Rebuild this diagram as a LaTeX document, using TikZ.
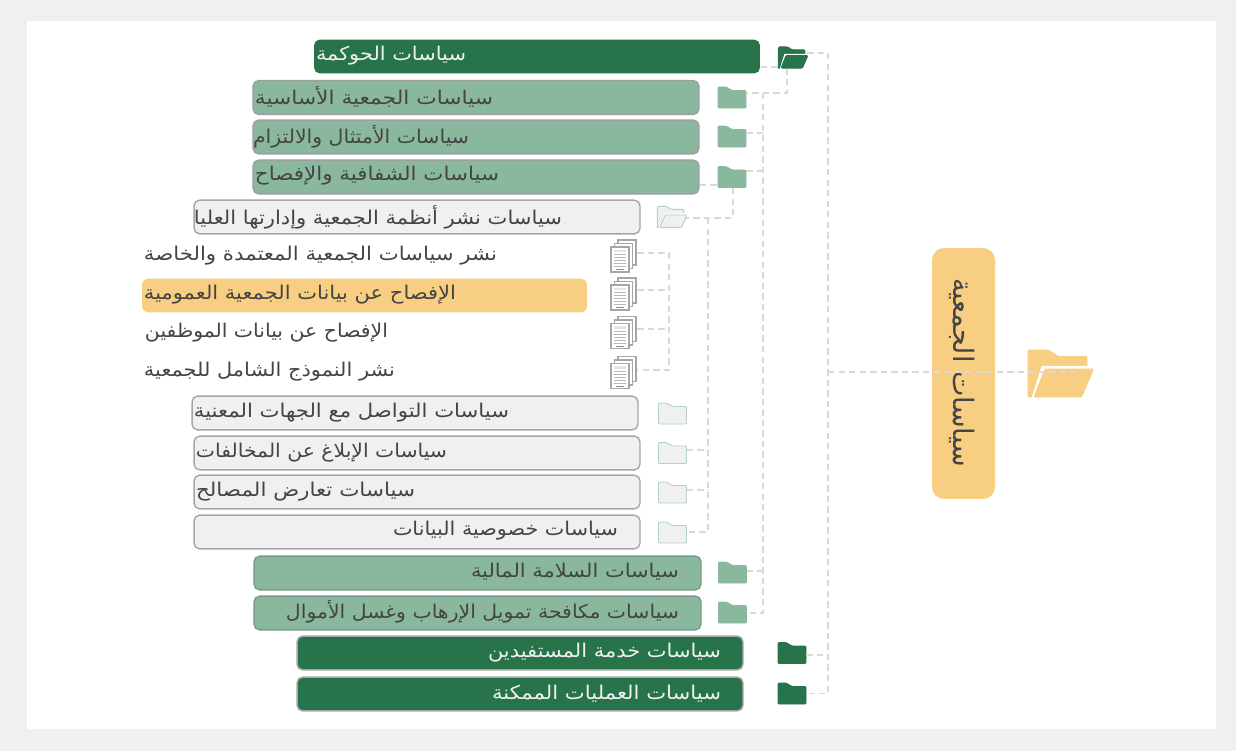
\documentclass[tikz,border=0pt]{standalone}
\usepackage{graphicx}
\usepackage{fontspec}
\usetikzlibrary{calc}
\TeXXeTstate=1
\newfontfamily\arabicfont[Script=Arabic]{DejaVu Sans}
\definecolor{darkgreen}{HTML}{27734A}
\definecolor{midgreen}{HTML}{8AB89E}
\definecolor{palegrey}{HTML}{F0F0F0}
\definecolor{sandy}{HTML}{F8CE82}
\definecolor{inkgrey}{HTML}{444444}
\tikzset{
linkline/.style={draw=black!15,line width=.75pt,dash pattern=on 3.6pt off 2.4pt},
tabbar/.style={rounded corners=3.2pt,inner sep=0pt,minimum height=19.2pt,line width=.8pt},
darkbar/.style={tabbar,fill=darkgreen,draw=black!35},
midbar/.style={tabbar,fill=midgreen,draw=black!38},
greybar/.style={tabbar,fill=palegrey,draw=black!35},
sandbar/.style={tabbar,fill=sandy},
lbl/.style={inner sep=0pt,text=inkgrey},
lightlbl/.style={inner sep=0pt,text=black!6},
iconbox/.style={inner sep=0pt,minimum width=15.9pt,minimum height=12.2pt}
}
% width in px, text
\newcommand{\arb}[2]{\resizebox{#1\unitlength}{\height}{\arabicfont\fontsize{10.8}{12}\selectfont #2}}
\setlength{\unitlength}{.02cm}
% name, x, y, fill, line
\newcommand{\closedfolder}[5]{%
\node[iconbox] (#1) at (#2,#3) {};
\filldraw[fill=#4,draw=#5,line width=.5pt,rounded corners=.6pt,shift={(#1.center)}]
(-14,10.5)--(-14,-10.5)--(-6,-10.5)--(0,-7)--(14,-7)--(14,10.5)--cycle;
}
% name, x, y, scale, fill, line
\newcommand{\openfolder}[6]{%
\node[iconbox] (#1) at (#2,#3) {};
\begin{scope}[shift={(#1.center)},scale=#4,line width=.5pt]
\filldraw[fill=#5,draw=#6,rounded corners=.6pt]
(-32.5,23.5)--(-32.5,-23.5)--(-12,-23.5)--(-2,-17)--(26.5,-17)--(26.5,-5)--(-20,-5)--(-29,23.5)--cycle;
\draw[white,line width=1.6pt*#4+.35pt] (-27,24)--(-17.5,-6)--(30,-6);
\filldraw[fill=#5,draw=#6,rounded corners=.6pt]
(-15.5,-4.5)--(33,-4.5)--(21,23.5)--(-26.5,23.5)--cycle;
\end{scope}
}
% name, x, y
\newcommand{\docstack}[3]{%
\node[iconbox,minimum width=14.8pt,minimum height=18.4pt] (#1) at (#2,#3) {};
\begin{scope}[shift={(#1.center)}]
\foreach \dx in {7,3.5,0}{
\filldraw[fill=white,draw=black!35,line width=.7pt] (-13+\dx,-9.5-\dx) rectangle (5+\dx,15.5-\dx);
}
\fill[black!10] (-10,-7) rectangle (2,-4.5);
\foreach \dy in {-2,1,4,7,10}{
\draw[black!28,line width=.55pt] (-10,\dy)--(2,\dy);
}
\draw[black!45,line width=.55pt] (-8,13)--(0,13);
\end{scope}
}
\begin{document}
\begin{tikzpicture}[x=.02cm,y=-.02cm]
\useasboundingbox (0,0) rectangle (1236,751);
\fill[palegrey] (0,0) rectangle (1236,751);
\fill[white] (27,21) rectangle (1216,729);
\coordinate (spinea) at (828,53);
\coordinate (spineb) at (763,93);
\coordinate (spinec) at (708,218);
\coordinate (spined) at (669,253);

% top level
\node[darkbar,draw=none,minimum width=8.92cm] (gov) at (537,56.5) {};
\node[lightlbl] (govt) at (391,56) {\arb{150}{\beginR سياسات الحوكمة\endR}};
\node[midbar,minimum width=8.92cm] (basic) at (476,97.5) {};
\node[lbl] (basict) at (374,97) {\arb{238}{\beginR سياسات الجمعية الأساسية\endR}};
\node[midbar,minimum width=8.92cm] (comply) at (476,137) {};
\node[lbl] (complyt) at (361,137) {\arb{216}{\beginR سياسات الأمتثال والالتزام\endR}};
\node[midbar,minimum width=8.92cm] (disclose) at (476,177) {};
\node[lbl] (discloset) at (377,176) {\arb{244}{\beginR سياسات الشفافية والإفصاح\endR}};
\node[greybar,minimum width=8.92cm] (publish) at (417,217) {};
\node[lbl] (publisht) at (378,217) {\arb{368}{\beginR سياسات نشر أنظمة الجمعية وإدارتها العليا\endR}};

% sub items
\node[lbl] (itema) at (320.5,256) {\arb{353}{\beginR نشر سياسات الجمعية المعتمدة والخاصة\endR}};
\node[sandbar,minimum width=8.9cm] (itemb) at (364.5,295.5) {};
\node[lbl] (itembt) at (300,295) {\arb{312}{\beginR الإفصاح عن بيانات الجمعية العمومية\endR}};
\node[lbl] (itemc) at (266.5,333) {\arb{243}{\beginR الإفصاح عن بيانات الموظفين\endR}};
\node[lbl] (itemd) at (269.5,372) {\arb{251}{\beginR نشر النموذج الشامل للجمعية\endR}};

\node[greybar,minimum width=8.92cm] (contact) at (415,413) {};
\node[lbl] (contactt) at (351.5,413) {\arb{315}{\beginR سياسات التواصل مع الجهات المعنية\endR}};
\node[greybar,minimum width=8.92cm] (report) at (417,453) {};
\node[lbl] (reportt) at (321.5,453) {\arb{251}{\beginR سياسات الإبلاغ عن المخالفات\endR}};
\node[greybar,minimum width=8.92cm] (conflict) at (417,492) {};
\node[lbl] (conflictt) at (305.5,492) {\arb{219}{\beginR سياسات تعارض المصالح\endR}};
\node[greybar,minimum width=8.92cm] (privacy) at (417,532) {};
\node[lbl] (privacyt) at (505.5,531) {\arb{225}{\beginR سياسات خصوصية البيانات\endR}};
\node[midbar,draw=midgreen!85!black,minimum width=8.94cm] (finance) at (477.5,573) {};
\node[lbl] (financet) at (575,572) {\arb{208}{\beginR سياسات السلامة المالية\endR}};
\node[midbar,draw=midgreen!85!black,minimum width=8.94cm] (launder) at (477.5,613) {};
\node[lbl] (laundert) at (482.5,612) {\arb{393}{\beginR سياسات مكافحة تمويل الإرهاب وغسل الأموال\endR}};
\node[darkbar,minimum width=8.92cm] (service) at (520,653) {};
\node[lightlbl] (servicet) at (604.5,653) {\arb{233}{\beginR سياسات خدمة المستفيدين\endR}};
\node[darkbar,minimum width=8.92cm] (ops) at (520,694) {};
\node[lightlbl] (opst) at (606.5,694) {\arb{229}{\beginR سياسات العمليات الممكنة\endR}};

% main box
\node[fill=sandy,rounded corners=6.8pt,inner sep=0pt,minimum width=1.26cm,minimum height=5.02cm] (main) at (963.5,373.5) {};
\node[lbl,rotate=-90] (maint) at (962,372.5)
{\resizebox{189\unitlength}{\height}{\arabicfont\fontsize{16}{18}\selectfont\beginR سياسات الجمعية\endR}};

% folders
\openfolder{fgov}{793}{57.5}{.45}{darkgreen}{darkgreen}
\closedfolder{fbasic}{732}{97.5}{midgreen}{midgreen}
\closedfolder{fcomply}{732}{136.5}{midgreen}{midgreen}
\closedfolder{fdisclose}{732}{177}{midgreen}{midgreen}
\openfolder{fpublish}{672}{217}{.45}{palegrey}{midgreen!65}
\closedfolder{fcontact}{672.5}{413.5}{palegrey}{midgreen!65}
\closedfolder{freport}{672.5}{453}{palegrey}{midgreen!65}
\closedfolder{fconflict}{672.5}{492.5}{palegrey}{midgreen!65}
\closedfolder{fprivacy}{672.5}{532.5}{palegrey}{midgreen!65}
\closedfolder{ffinance}{732.5}{572.5}{midgreen}{midgreen}
\closedfolder{flaunder}{732.5}{612.5}{midgreen}{midgreen}
\closedfolder{fservice}{792}{653}{darkgreen}{darkgreen}
\closedfolder{fops}{792}{693.5}{darkgreen}{darkgreen}
\openfolder{fmain}{1060.5}{373.5}{1}{sandy}{sandy}

% documents
\docstack{doca}{624}{256.5}
\docstack{docb}{624}{294.5}
\docstack{docc}{624}{333}
\docstack{docd}{624}{373}

% links
\draw[linkline] (spinea)--(spinea |- fops.east)--(fops.east);
\draw[linkline] (fgov.east |- 0,53)--(spinea);
\draw[linkline] (fservice.east |- 0,655)--(spinea |- 0,655);
\draw[linkline] (spinea |- 0,372)--(1075,372);
\draw[linkline] (fgov.south -| 787,0)--(787,93)--(fbasic.east |- 0,93);
\draw[linkline] (spineb)--(spineb |- 0,613)--(flaunder.east |- 0,613);
\foreach \n/\yy in {fcomply/133,fdisclose/171,ffinance/571}{
\draw[linkline] (\n.east |- 0,\yy)--(spineb |- 0,\yy);
}
\draw[linkline] (gov.east |- 0,67)--(fgov.west |- 0,67);
\draw[linkline] (disclose.east |- 0,185)--(fdisclose.west |- 0,185);
\draw[linkline] (fdisclose.south -| 733,0)--(733,218)--(fpublish.east |- 0,218);
\draw[linkline] (spinec)--(spinec |- 0,532)--(fprivacy.east |- 0,532);
\foreach \n/\yy in {freport/450,fconflict/490}{
\draw[linkline] (\n.east |- 0,\yy)--(spinec |- 0,\yy);
}
\draw[linkline] (doca.east |- 0,253)--(spined)--(spined |- 0,370)--(docd.east |- 0,370);
\foreach \n/\yy in {docb/290,docc/329}{
\draw[linkline] (\n.east |- 0,\yy)--(spined |- 0,\yy);
}
\end{tikzpicture}
\end{document}
